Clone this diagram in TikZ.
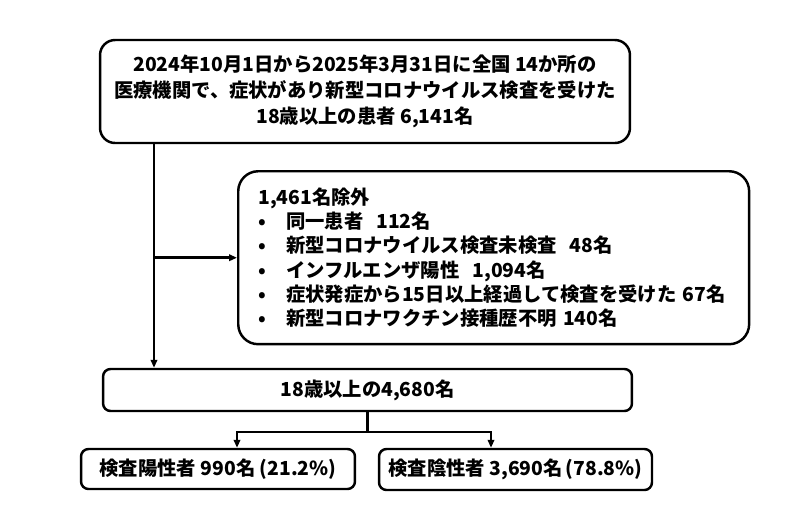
\documentclass[tikz,border=0pt]{standalone}
\usepackage{fontspec}
\setmainfont{Noto Sans CJK JP}
\usetikzlibrary{arrows.meta}
\newcommand{\bul}{\makebox[0.56cm][l]{\textbullet}}

\begin{document}
\begin{tikzpicture}[x=0.02cm,y=-0.02cm,
    box/.style={draw,line width=1.4pt,inner sep=0pt,
      font=\bfseries\fontsize{11}{14.7}\selectfont},
    link/.style={line width=1.4pt},
    arr/.style={line width=1.4pt,-{Triangle[length=0.16cm,width=0.13cm]}}]
        \useasboundingbox (0,0) rectangle (800,505);

        \node[box,rounded corners=0.3cm,minimum width=10.6cm,minimum height=2.06cm,align=center]
        (cohort) at (365,91.5)
        {2024年10月1日から2025年3月31日に全国 14か所の\\
         医療機関で、症状があり新型コロナウイルス検査を受けた\\
         18歳以上の患者 6,141名};
        \node[box,rounded corners=0.4cm,anchor=north west,minimum width=10.22cm,minimum height=3.46cm,
          text width=9.42cm,inner xsep=0.4cm,align=left,
          font=\bfseries\fontsize{11}{13.8}\selectfont]
        (excl) at (237,170)
        {1,461名除外\\
         \bul 同一患者~~112名\\
         \bul 新型コロナウイルス検査未検査~~48名\\
         \bul インフルエンザ陽性~~1,094名\\
         \bul 症状発症から15日以上経過して検査を受けた~67名\\
         \bul 新型コロナワクチン接種歴不明~140名};
        \node[box,rounded corners=0.15cm,minimum width=10.58cm,minimum height=0.84cm]
        (adults) at (367.5,390) {18歳以上の4,680名};
        \node[box,rounded corners=0.15cm,minimum width=5.48cm,minimum height=0.8cm]
        (pos) at (218,469) {検査陽性者 990名 (21.2\%)};
        \node[box,rounded corners=0.15cm,minimum width=5.46cm,minimum height=0.82cm]
        (neg) at (515.5,469.5) {検査陰性者 3,690名\,(78.8\%)};

        \coordinate (trunk) at (154,0);
        \coordinate (fork) at (0,432);
        \coordinate (lft) at (237,0);
        \coordinate (rgt) at (491,0);

        \draw[arr] (cohort.south -| trunk) -- (adults.north -| trunk);
        \draw[arr] (trunk |- excl.west) -- (excl.west);
        \draw[link] (adults.south) -- (adults.south |- fork);
        \draw[arr] (adults.south |- fork) -| (lft |- pos.north);
        \draw[arr] (adults.south |- fork) -| (rgt |- neg.north);

      \end{tikzpicture}
\end{document}
